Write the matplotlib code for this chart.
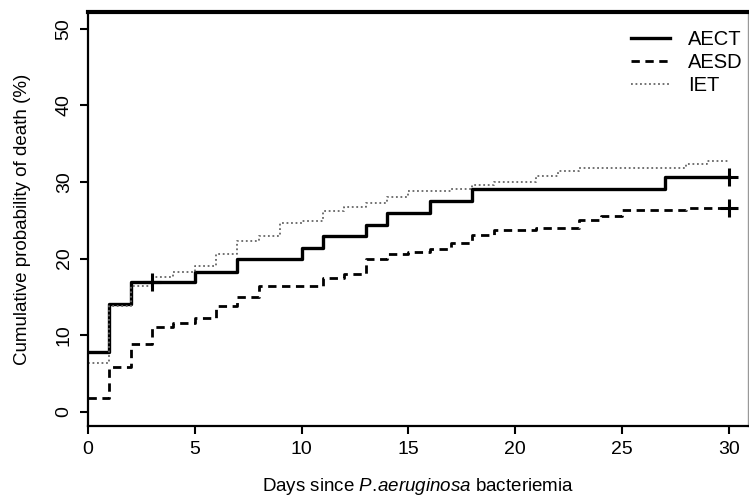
import matplotlib.pyplot as plt
import numpy as np

plt.rcParams['font.family'] = ['Liberation Sans', 'DejaVu Sans']
plt.rcParams['mathtext.fontset'] = 'custom'
plt.rcParams['mathtext.it'] = 'Liberation Sans:italic'
plt.rcParams['mathtext.rm'] = 'Liberation Sans'

# Kaplan-Meier style cumulative death curves
aect_t = [0, 1, 2, 5, 7, 10, 11, 13, 14, 16, 18, 27, 30]
aect_y = [7.8, 14.0, 16.9, 18.3, 19.9, 21.4, 22.9, 24.4, 25.9, 27.5, 29.1, 30.6, 30.6]
aect_cens_t = [3, 30]
aect_cens_y = [16.9, 30.6]

aesd_t = [0, 1, 2, 3, 4, 5, 6, 7, 8, 11, 12, 13, 14, 15, 16, 17, 18, 19, 21, 23, 24, 25, 28, 30]
aesd_y = [1.75, 5.8, 8.8, 11.1, 11.55, 12.3, 13.8, 15.0, 16.4, 17.5, 18.0, 20.0, 20.6, 20.9,
          21.3, 22.0, 23.1, 23.7, 24.0, 25.06, 25.6, 26.3, 26.6, 26.6]
aesd_cens_t = [30]
aesd_cens_y = [26.6]

iet_t = [0, 1, 2, 3, 4, 5, 6, 7, 8, 9, 10, 11, 12, 13, 14, 15, 17, 18, 19, 21, 22, 23, 28, 29, 30]
iet_y = [6.4, 13.8, 16.4, 17.6, 18.3, 19.05, 20.6, 22.3, 22.97, 24.6, 24.9, 26.2, 26.7, 27.3,
         28.0, 28.85, 29.1, 29.6, 30.0, 30.8, 31.5, 31.8, 32.3, 32.7, 32.7]

x_ticks = [0, 5, 10, 15, 20, 25, 30]
y_ticks = [0, 10, 20, 30, 40, 50]


def Main():
    fig = plt.figure(figsize=(7.49, 5.01), dpi=100)
    ax = fig.add_axes([0.1175, 0.150, 0.881, 0.826])

    ax.step(aect_t, aect_y, where='post', color='black', lw=2.4, label='AECT')
    ax.step(aesd_t, aesd_y, where='post', color='black', lw=2.0,
            linestyle=(0, (3, 2)), label='AESD')
    ax.step(iet_t, iet_y, where='post', color='#666666', lw=1.3,
            linestyle=(0, (1, 1.5)), label='IET')

    ax.plot(aect_cens_t, aect_cens_y, '+', color='black', ms=13, mew=2.2)
    ax.plot(aesd_cens_t, aesd_cens_y, '+', color='black', ms=13, mew=2.2)

    ax.set_xlim(0, 30.9)
    ax.set_ylim(-1.85, 52.2)
    ax.set_xticks(x_ticks)
    ax.set_yticks(y_ticks)
    ax.tick_params(axis='both', direction='out', length=6, width=1.5, labelsize=14)
    ax.tick_params(axis='x', pad=5)
    ax.tick_params(axis='y', pad=5)
    for lab in ax.get_yticklabels():
        lab.set_rotation(90)
        lab.set_va('center')

    for side in ['left', 'bottom', 'right']:
        ax.spines[side].set_linewidth(1.6)
    ax.spines['top'].set_linewidth(3)
    ax.spines['right'].set_color('#999999')
    ax.spines['right'].set_linewidth(1)

    ax.set_xlabel('Days since $\\it{P.\\!aeruginosa}$ bacteriemia', fontsize=13.5, labelpad=13)
    ax.set_ylabel('Cumulative probability of death (%)', fontsize=13.5, labelpad=18)

    ax.legend(loc='upper right', frameon=False, fontsize=14.5, handlelength=1.9,
              handletextpad=0.9, labelspacing=0.2, borderaxespad=0.3,
              bbox_to_anchor=(1.013, 0.99))

    fig.savefig('out.png', dpi=100)


if __name__ == '__main__':
    Main()
